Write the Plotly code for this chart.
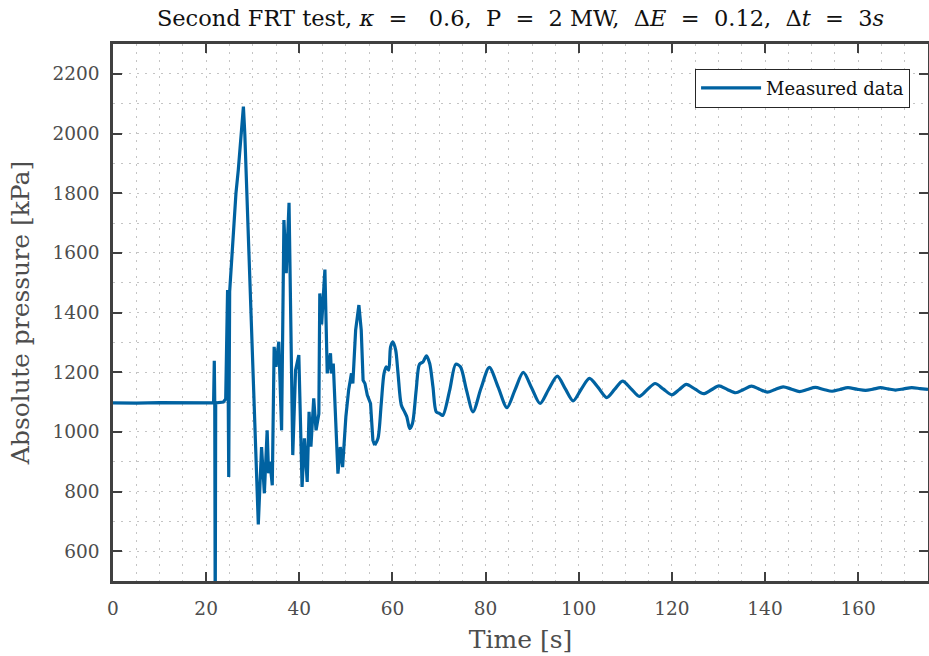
import plotly.graph_objects as go

# Transient part (s, kPa)
t_transient = [0, 5, 10, 15, 21.6, 21.75, 21.85, 21.95, 22.05, 23.7, 24.2, 24.6, 24.85, 25.05,
               25.8, 26.4, 26.9, 27.6, 28.0, 28.3, 29.8, 31.2, 31.9, 32.5, 33.1, 33.4, 33.7,
               34.2, 34.6, 35.0, 35.6, 36.2, 36.7, 37.2, 37.8, 38.6, 39.2, 39.9, 40.6, 41.1,
               41.7, 42.1, 42.5, 43.1, 43.6, 44.2, 44.4, 44.8, 45.5, 45.7, 46.0, 46.7, 46.9,
               47.3, 47.7, 48.3, 48.8, 49.3, 50.0, 50.6, 51.2, 51.5, 52.1, 52.8, 53.3, 53.7,
               54.1, 54.6, 55.3, 55.8, 56.2]
p_transient = [1097, 1096, 1098, 1097, 1097, 1238, 1097, 350, 1097, 1100, 1110, 1475, 849, 1470,
               1676, 1799, 1877, 2023, 2090, 2000, 1330, 690, 949, 794, 1005, 861, 900,
               821, 1285, 1218, 1302, 1005, 1710, 1532, 1768, 922, 1207, 1257, 815, 978,
               832, 1067, 950, 1112, 1005, 1060, 1464, 1360, 1544, 1341, 1196, 1263, 1196,
               1229, 1095, 860, 949, 882, 1050, 1140, 1196, 1162, 1341, 1425, 1341, 1173,
               1162, 1123, 1095, 972, 955]

# Damped oscillation part (s, kPa)
t_tail = [56.2, 56.9, 57.6, 58.2, 58.7, 59.2, 59.6, 60.1, 60.7, 61.2, 61.9, 62.6, 63.1, 63.7,
          64.3, 65.1, 65.8, 66.6, 67.3, 68.0, 68.7, 69.4, 70.1, 70.8, 72.3, 73.6, 74.6, 75.9,
          77.3, 79.0, 80.8, 82.7, 84.6, 86.3, 88.1, 89.9, 91.7, 93.5, 95.4, 97.1, 98.8, 100.5,
          102.3, 104.2, 106.0, 107.7, 109.4, 111.2, 113.0, 114.7, 116.4, 118.2, 120.0, 121.6,
          123.1, 125.0, 126.8, 128.5, 130.1, 131.9, 133.7, 135.4, 137.1, 138.8, 140.5, 142.2,
          143.9, 145.7, 147.4, 149.1, 150.8, 152.6, 154.4, 156.1, 157.8, 159.7, 161.6, 163.2,
          164.8, 166.4, 168.0, 169.8, 171.5, 173.3, 175.0]
p_tail = [955, 978, 1095, 1196, 1218, 1207, 1285, 1302, 1274, 1196, 1090, 1067, 1050, 1011,
          1028, 1140, 1226, 1235, 1255, 1229, 1151, 1067, 1062, 1055, 1140, 1227, 1218, 1140,
          1067, 1145, 1216, 1150, 1081, 1140, 1199, 1147, 1095, 1141, 1187, 1145, 1104, 1142,
          1179, 1148, 1115, 1142, 1170, 1145, 1119, 1141, 1162, 1143, 1124, 1142,
          1159, 1143, 1128, 1141, 1154, 1142, 1131, 1142, 1153, 1143, 1133, 1142,
          1151, 1143, 1135, 1142, 1149, 1142, 1136, 1142, 1148, 1143, 1139, 1143,
          1148, 1144, 1140, 1144, 1148, 1145, 1142]

x_ticks = [0, 20, 40, 60, 80, 100, 120, 140, 160]
y_ticks = [600, 800, 1000, 1200, 1400, 1600, 1800, 2000, 2200]

LINE = "#0062A1"
AX = "#404040"
GRID = "#c4c4c4"
TXT = "#4d4d4d"
FONT = "DejaVu Serif"
NB = "\u00a0"

fig = go.Figure()
fig.add_trace(go.Scatter(x=t_transient, y=p_transient, mode="lines", name="Measured data",
                         line=dict(color=LINE, width=3.2), legendgroup="m"))
fig.add_trace(go.Scatter(x=t_tail, y=p_tail, mode="lines", name="Measured data",
                         line=dict(color=LINE, width=3.2, shape="spline", smoothing=0.8),
                         legendgroup="m", showlegend=False))

axis_common = dict(
    showline=True, linecolor=AX, linewidth=2.5, mirror="ticks",
    ticks="inside", ticklen=9, tickwidth=2, tickcolor=AX,
    showgrid=True, gridcolor=GRID, gridwidth=1, griddash="2px,6px",
    zeroline=False, automargin=False,
    tickfont=dict(family=FONT, size=18.5, color=TXT),
)

fig.update_xaxes(**axis_common, range=[0, 175], tickvals=x_ticks, ticklabelstandoff=9,
                 minor=dict(dtick=5, showgrid=True, gridcolor=GRID, griddash="2px,6px", gridwidth=1),
                 title=dict(text="Time [s]", font=dict(family=FONT, size=25, color=TXT), standoff=13))
fig.update_yaxes(**axis_common, range=[500, 2300], tickvals=y_ticks, ticklabelstandoff=7,
                 minor=dict(dtick=100, showgrid=True, gridcolor=GRID, griddash="2px,6px", gridwidth=1),
                 title=dict(text="Absolute pressure [kPa]", font=dict(family=FONT, size=25, color=TXT), standoff=16))

eq = NB + NB + "=" + NB + NB
title_text = ("Second FRT test, <i>κ</i>" + eq + NB + "0.6," + NB + " P" + eq + "2 MW," + NB +
              " Δ<i>E</i>" + eq + "0.12," + NB + " Δ<i>t</i>" + eq + "3<i>s</i>")

fig.update_layout(
    width=929, height=656,
    margin=dict(l=113, r=1, t=44, b=75),
    paper_bgcolor="white", plot_bgcolor="white",
    title=dict(text=title_text,
               font=dict(family=FONT, size=22.5, color="#111111"),
               x=0.5, xref="paper", xanchor="center", y=0.972, yanchor="middle"),
    legend=dict(x=0.978, y=0.954, xanchor="right", yanchor="top", itemwidth=60,
                bgcolor="white", bordercolor="#262626", borderwidth=1,
                font=dict(family=FONT, size=18, color="#111111")),
    showlegend=True,
)

fig.write_html("out.html", post_script="document.body.style.margin='0';",
               config={"displayModeBar": False})
